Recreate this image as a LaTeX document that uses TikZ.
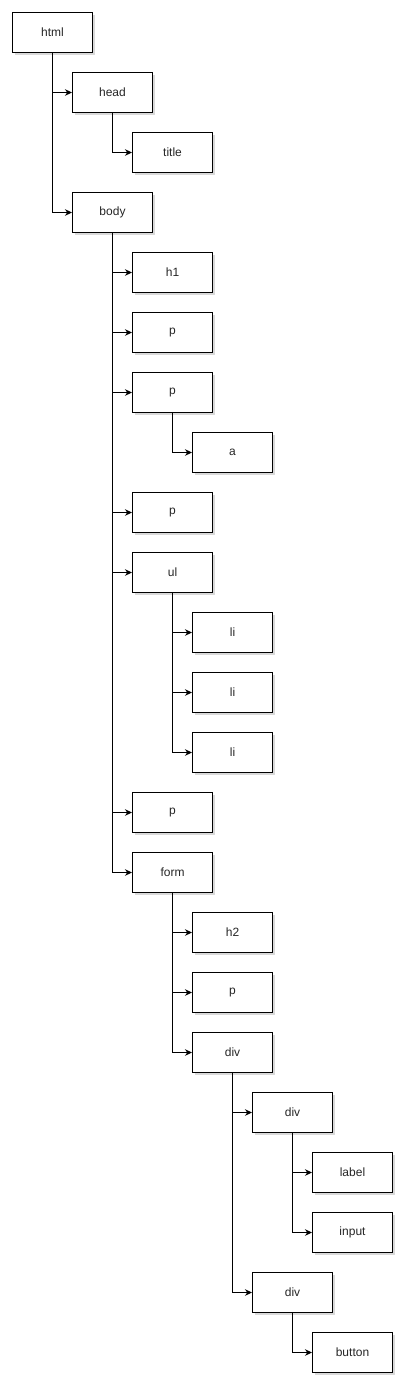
\documentclass[tikz,border=0pt]{standalone}
\usepackage{fontspec}
\setmainfont{Liberation Sans}
\usetikzlibrary{arrows.meta,shadows}
\begin{document}
\begin{tikzpicture}[x=1pt,y=-1pt,
  tag/.style={draw=black,line width=1pt,fill=white,minimum width=80pt,minimum height=40pt,
    inner sep=0pt,anchor=north west,font=\fontsize{12pt}{14pt}\selectfont,text=black!85,
    drop shadow={shadow xshift=2pt,shadow yshift=-2.5pt,opacity=0.25,fill=black!60}},
  link/.style={draw=black,line width=1pt,-{Stealth[length=7pt,width=6.5pt]}}]
\useasboundingbox (0,0) rectangle (405,1383);
\node[tag] (html) at (12,12) {html};
\node[tag] (head) at (72,72) {head};
\node[tag] (title) at (132,132) {title};
\node[tag] (body) at (72,192) {body};
\node[tag] (h1) at (132,252) {h1};
\node[tag] (p1) at (132,312) {p};
\node[tag] (p2) at (132,372) {p};
\node[tag] (a) at (192,432) {a};
\node[tag] (p3) at (132,492) {p};
\node[tag] (ul) at (132,552) {ul};
\node[tag] (li1) at (192,612) {li};
\node[tag] (li2) at (192,672) {li};
\node[tag] (li3) at (192,732) {li};
\node[tag] (p4) at (132,792) {p};
\node[tag] (form) at (132,852) {form};
\node[tag] (h2) at (192,912) {h2};
\node[tag] (p5) at (192,972) {p};
\node[tag] (div1) at (192,1032) {div};
\node[tag] (div2) at (252,1092) {div};
\node[tag] (label) at (312,1152) {label};
\node[tag] (input) at (312,1212) {input};
\node[tag] (div3) at (252,1272) {div};
\node[tag] (button) at (312,1332) {button};
\foreach \p/\c in {html/head,html/body,head/title,body/h1,body/p1,body/p2,p2/a,body/p3,body/ul,
  ul/li1,ul/li2,ul/li3,body/p4,body/form,form/h2,form/p5,form/div1,div1/div2,div2/label,
  div2/input,div1/div3,div3/button}
  \draw[link] (\p.south) |- (\c.west);
\end{tikzpicture}
\end{document}
